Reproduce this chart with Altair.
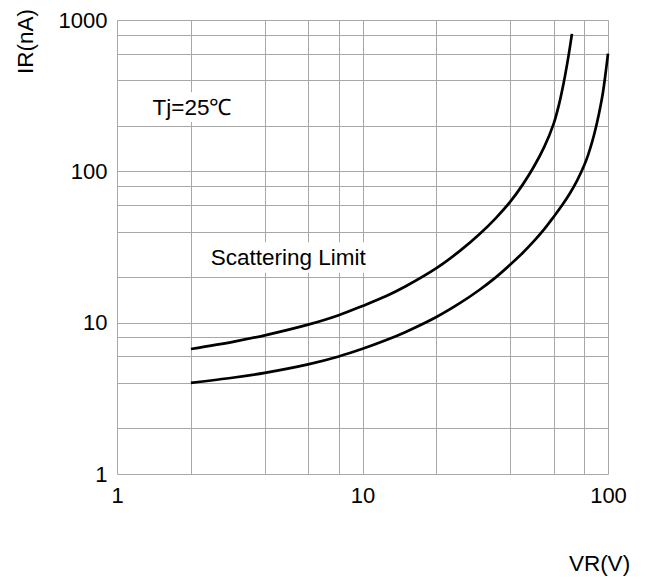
import altair as alt
import pandas as pd

# ---- data ----
vr_upper = [2, 3, 4, 6, 8, 10, 12.5, 15, 20, 25, 30, 35, 40, 45, 50, 55, 60, 63, 66, 69, 71.3]
ir_upper = [6.7, 7.5, 8.25, 9.7, 11.2, 12.9, 15.0, 17.4, 22.9, 29.9, 38.5, 49.3, 63, 82, 108, 145, 205, 272, 385, 575, 810]

vr_lower = [2, 3, 4, 6, 8, 10, 12.5, 15, 20, 25, 30, 35, 40, 45, 50, 55, 60, 65, 70, 75, 80, 83, 86, 89, 92, 95, 97.5, 100]
ir_lower = [4.0, 4.34, 4.66, 5.30, 5.98, 6.72, 7.68, 8.69, 10.9, 13.5, 16.5, 20.0, 24.2, 29.0, 34.7, 41.5, 49.9, 59.6, 71.6, 87.5, 109.6, 128.5, 154.5, 191, 243, 319, 430, 600]

x_grid = [1, 2, 4, 6, 8, 10, 20, 40, 60, 80, 100]
y_grid = [1, 2, 4, 6, 8, 10, 20, 40, 60, 80, 100, 200, 400, 600, 800, 1000]

notes = ["Tj=25℃", "Scattering Limit"]
note_x = [2.02, 4.98]
note_y = [261, 26.7]
box_x = [1.3, 2.12]
box_x2 = [3.2, 11.6]
box_y = [333, 34]
box_y2 = [212, 21.4]

FONT = "Liberation Sans"
GRID = "#a8a8a8"

curves = pd.DataFrame({
    "VR": vr_upper + vr_lower,
    "IR": ir_upper + ir_lower,
    "series": ["upper"] * len(vr_upper) + ["lower"] * len(vr_lower),
})
note_df = pd.DataFrame({"text": notes, "x": note_x, "y": note_y})
box_df = pd.DataFrame({"x": box_x, "x2": box_x2, "y": box_y, "y2": box_y2})

xscale = alt.Scale(type="log", domain=[1, 100], nice=False)
yscale = alt.Scale(type="log", domain=[1, 1000], nice=False)

xaxis = alt.Axis(
    values=x_grid, grid=True, gridColor=GRID, gridWidth=1, gridOpacity=1,
    ticks=False, domain=False,
    labelExpr="indexof([1,10,100], datum.value) >= 0 ? format(datum.value, 'd') : ''",
    labelFlush=False, labelOverlap=False, labelFontSize=22, labelFont=FONT,
    labelColor="black", labelPadding=11,
    title="VR(V)", titleFont=FONT, titleFontSize=22.5, titleFontWeight="normal",
    titleColor="black", titleX=482, titleY=89, titleAlign="center",
    titleBaseline="middle", titleAngle=0,
)
yaxis = alt.Axis(
    values=y_grid, grid=True, gridColor=GRID, gridWidth=1, gridOpacity=1,
    ticks=False, domain=False,
    labelExpr="indexof([1,10,100,1000], datum.value) >= 0 ? format(datum.value, 'd') : ''",
    labelFlush=False, labelOverlap=False, labelFontSize=22, labelFont=FONT,
    labelColor="black", labelPadding=10,
    title="IR(nA)", titleFont=FONT, titleFontSize=22.5, titleFontWeight="normal",
    titleColor="black", titleX=-92, titleY=21, titleAlign="center",
    titleBaseline="middle", titleAngle=270,
)

lines = alt.Chart(curves).mark_line(
    color="black", strokeWidth=2.7, interpolate="catmull-rom"
).encode(
    x=alt.X("VR:Q", scale=xscale, axis=xaxis),
    y=alt.Y("IR:Q", scale=yscale, axis=yaxis),
    detail="series:N",
)

boxes = alt.Chart(box_df).mark_rect(color="white").encode(
    x=alt.X("x:Q", scale=xscale),
    x2="x2:Q",
    y=alt.Y("y:Q", scale=yscale),
    y2="y2:Q",
)

texts = alt.Chart(note_df).mark_text(
    font=FONT, fontSize=22.5, color="black", align="center", baseline="middle"
).encode(
    x=alt.X("x:Q", scale=xscale),
    y=alt.Y("y:Q", scale=yscale),
    text="text:N",
)

chart = alt.layer(lines, boxes, texts).properties(
    width=491, height=454,
    autosize=alt.AutoSizeParams(type="none"),
    padding={"left": 117, "top": 20, "right": 41, "bottom": 105},
    background="white",
).configure_view(stroke=None)

chart.save("out.html", embed_options={"renderer": "svg", "actions": False})
